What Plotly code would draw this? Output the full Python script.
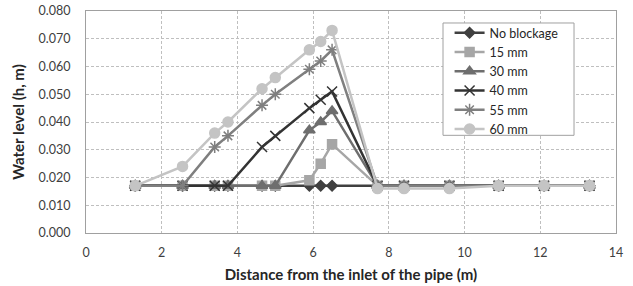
import plotly.graph_objects as go

distance = [1.3, 2.55, 3.4, 3.75, 4.65, 5.0, 5.9, 6.2, 6.5, 7.7, 8.4, 9.6, 10.9, 12.1, 13.3]

no_blockage = [0.017, 0.017, 0.017, 0.017, 0.017, 0.017, 0.017, 0.017, 0.017, 0.017, 0.017, 0.017, 0.017, 0.017, 0.017]
mm15 = [0.017, 0.017, 0.017, 0.017, 0.017, 0.017, 0.019, 0.025, 0.032, 0.017, 0.017, 0.017, 0.017, 0.017, 0.017]
mm30 = [0.017, 0.017, 0.017, 0.017, 0.017, 0.017, 0.037, 0.040, 0.044, 0.017, 0.017, 0.017, 0.017, 0.017, 0.017]
mm40 = [0.017, 0.017, 0.017, 0.017, 0.031, 0.035, 0.045, 0.048, 0.051, 0.017, 0.017, 0.017, 0.017, 0.017, 0.017]
mm55 = [0.017, 0.017, 0.031, 0.035, 0.046, 0.050, 0.059, 0.062, 0.066, 0.017, 0.017, 0.017, 0.017, 0.017, 0.017]
mm60 = [0.017, 0.024, 0.036, 0.040, 0.052, 0.056, 0.066, 0.069, 0.073, 0.016, 0.016, 0.016, 0.017, 0.017, 0.017]

series_names = ["No blockage", "15 mm", "30 mm", "40 mm", "55 mm", "60 mm"]
series_values = [no_blockage, mm15, mm30, mm40, mm55, mm60]

styles = [
    dict(color="#404040", symbol="diamond", size=8),
    dict(color="#a6a6a6", symbol="square", size=9),
    dict(color="#6e6e6e", symbol="triangle-up", size=10),
    dict(color="#333333", symbol="x-thin-open", size=10),
    dict(color="#7f7f7f", symbol="asterisk-open", size=10),
    dict(color="#c4c4c4", symbol="circle", size=10),
]

font_family = "Lato, 'Open Sans', sans-serif"

fig = go.Figure()
for name, vals, st in zip(series_names, series_values, styles):
    fig.add_trace(go.Scatter(
        x=distance, y=vals, name=name, mode="lines+markers",
        line=dict(color=st["color"], width=2.5),
        marker=dict(symbol=st["symbol"], size=st["size"], color=st["color"],
                    line=dict(color=st["color"], width=1.5)),
    ))

# legend frame
fig.add_shape(type="rect", xref="paper", yref="paper",
              x0=0.6736, x1=0.9208, y0=0.44, y1=0.946,
              line=dict(color="#a0a0a0", width=1), fillcolor="white", layer="above")

fig.update_layout(
    width=633, height=286,
    margin=dict(l=86, r=17, t=11, b=53),
    paper_bgcolor="white", plot_bgcolor="white",
    font=dict(family=font_family, size=12, color="#404040"),
    showlegend=True,
    legend=dict(
        x=0.686, y=0.968, xanchor="left", yanchor="top",
        bgcolor="rgba(0,0,0,0)", borderwidth=0,
        font=dict(family=font_family, size=12.5, color="#262626"),
        tracegroupgap=0, itemwidth=30,
    ),
    xaxis=dict(
        range=[0, 14], dtick=2, tick0=0, automargin=False,
        showgrid=True, gridcolor="#bfbfbf", griddash="3px,2px", gridwidth=1,
        showline=True, linecolor="#a0a0a0", mirror=True, linewidth=1,
        zeroline=False, ticks="", ticklabelstandoff=8, ticklabeloverflow="allow",
        tickfont=dict(family=font_family, size=12.5, color="#404040"),
        title=dict(text="<b>Distance from the inlet of the pipe (m)</b>",
                   font=dict(family=font_family, size=15, color="#262626"), standoff=10),
    ),
    yaxis=dict(
        range=[0, 0.08], dtick=0.01, tickformat=".3f", automargin=False,
        showgrid=True, gridcolor="#bfbfbf", griddash="3px,2px", gridwidth=1,
        showline=True, linecolor="#a0a0a0", mirror=True, linewidth=1,
        zeroline=False, ticks="", ticklabelstandoff=12, ticklabeloverflow="allow",
        tickfont=dict(family=font_family, size=12.5, color="#404040"),
        title=dict(text="<b>Water level (h, m)</b>",
                   font=dict(family=font_family, size=15, color="#262626"), standoff=10),
    ),
)

fig.write_html("out.html", config={"displayModeBar": False},
               post_script="document.body.style.margin='0';")
